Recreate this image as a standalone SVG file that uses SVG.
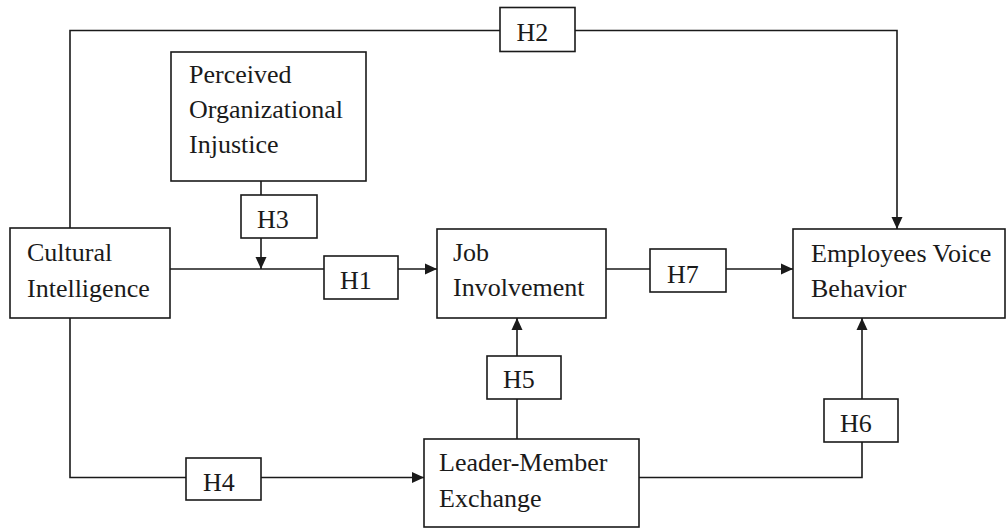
<svg xmlns="http://www.w3.org/2000/svg" width="1008" height="529" viewBox="0 0 1008 529">
<defs>
<marker id="arr" markerUnits="userSpaceOnUse" markerWidth="12" markerHeight="12" refX="12" refY="6" orient="auto">
<path d="M0,0.5 L12,6 L0,11.5 z" fill="#1a1a1a"/>
</marker>
<style>
rect{fill:#fff;stroke:#1a1a1a;stroke-width:1.6}
text{font-family:"Liberation Serif","Times New Roman",serif;font-size:26px;fill:#1a1a1a}
.c path{fill:none;stroke:#1a1a1a;stroke-width:1.6}
.a{marker-end:url(#arr)}
</style>
</defs>
<rect x="0" y="0" width="1008" height="529" style="fill:#fff;stroke:none"/>
<g id="connectors" class="c">
<path d="M70,228 V30.5 H500"/>
<path class="a" d="M575,30.5 H897 V229"/>
<path d="M261,181 V195"/>
<path class="a" d="M261,238 V269"/>
<path d="M170,269 H324"/>
<path class="a" d="M398,269 H437"/>
<path d="M606,269 H650"/>
<path class="a" d="M726,269 H793"/>
<path d="M70,318 V477.5 H186"/>
<path class="a" d="M261,477.5 H424"/>
<path d="M517,439 V399"/>
<path class="a" d="M517,356 V318"/>
<path d="M639,477.5 H862 V442"/>
<path class="a" d="M862,399 V318"/>
</g>
<g id="poi"><rect x="171" y="52" width="195" height="129"/>
<text x="189" y="83">Perceived</text><text x="189" y="118">Organizational</text><text x="189" y="153">Injustice</text></g>
<g id="ci"><rect x="10" y="228" width="160" height="90"/>
<text x="27" y="261">Cultural</text><text x="27" y="296.5">Intelligence</text></g>
<g id="ji"><rect x="437" y="229" width="169" height="89"/>
<text x="453" y="261">Job</text><text x="453" y="296">Involvement</text></g>
<g id="evb"><rect x="793" y="229" width="212" height="89"/>
<text x="811" y="261.5">Employees Voice</text><text x="811" y="296.5">Behavior</text></g>
<g id="lmx"><rect x="424" y="439" width="215" height="88"/>
<text x="439" y="470.5">Leader-Member</text><text x="439" y="506.5">Exchange</text></g>
<g id="h2"><rect x="500" y="7.5" width="75" height="44"/><text x="516.5" y="41">H2</text></g>
<g id="h3"><rect x="241" y="195" width="76" height="43"/><text x="257" y="228">H3</text></g>
<g id="h1"><rect x="324" y="256" width="74" height="43"/><text x="340" y="289">H1</text></g>
<g id="h7"><rect x="650" y="249" width="76" height="43"/><text x="667" y="283">H7</text></g>
<g id="h5"><rect x="487" y="356" width="74" height="43"/><text x="503" y="388">H5</text></g>
<g id="h6"><rect x="824" y="399" width="74" height="43"/><text x="840" y="432">H6</text></g>
<g id="h4"><rect x="186" y="458" width="75" height="42"/><text x="203" y="491">H4</text></g>
</svg>
